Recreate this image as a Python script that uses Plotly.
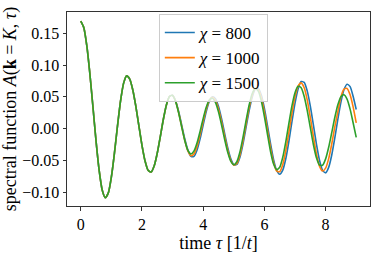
import plotly.graph_objects as go

tau = [round(i * 0.1, 1) for i in range(91)]

A_chi800 = [
    0.1690, 0.1587, 0.1292, 0.0850, 0.0327, -0.0201, -0.0656, -0.0967, -0.1088, -0.1013,
    -0.0762, -0.0386, 0.0041, 0.0434, 0.0715, 0.0829, 0.0778, 0.0607, 0.0347, 0.0039,
    -0.0264, -0.0510, -0.0658, -0.0684, -0.0586, -0.0385, -0.0122, 0.0150, 0.0375, 0.0506,
    0.0522, 0.0434, 0.0265, 0.0051, -0.0165, -0.0340, -0.0437, -0.0437, -0.0337, -0.0159,
    0.0058, 0.0269, 0.0427, 0.0498, 0.0468, 0.0346, 0.0154, -0.0075, -0.0297, -0.0472,
    -0.0567, -0.0565, -0.0450, -0.0243, 0.0017, 0.0279, 0.0494, 0.0619, 0.0630, 0.0523,
    0.0316, 0.0046, -0.0239, -0.0489, -0.0660, -0.0720, -0.0655, -0.0471, -0.0200, 0.0108,
    0.0400, 0.0624, 0.0739, 0.0727, 0.0589, 0.0352, 0.0056, -0.0245, -0.0499, -0.0658,
    -0.0697, -0.0611, -0.0416, -0.0147, 0.0147, 0.0416, 0.0611, 0.0697, 0.0660, 0.0505,
    0.0300,
]

A_chi1000 = [
    0.1690, 0.1587, 0.1292, 0.0850, 0.0327, -0.0201, -0.0656, -0.0967, -0.1088, -0.1013,
    -0.0762, -0.0386, 0.0041, 0.0434, 0.0715, 0.0829, 0.0778, 0.0607, 0.0347, 0.0039,
    -0.0264, -0.0510, -0.0658, -0.0684, -0.0586, -0.0385, -0.0122, 0.0150, 0.0375, 0.0506,
    0.0521, 0.0427, 0.0249, 0.0027, -0.0190, -0.0354, -0.0428, -0.0399, -0.0280, -0.0096,
    0.0115, 0.0307, 0.0442, 0.0490, 0.0441, 0.0304, 0.0103, -0.0125, -0.0338, -0.0499,
    -0.0576, -0.0551, -0.0415, -0.0194, 0.0071, 0.0327, 0.0526, 0.0630, 0.0617, 0.0484,
    0.0256, -0.0025, -0.0306, -0.0534, -0.0667, -0.0680, -0.0566, -0.0346, -0.0061, 0.0239,
    0.0498, 0.0668, 0.0719, 0.0641, 0.0448, 0.0175, -0.0125, -0.0398, -0.0591, -0.0669,
    -0.0624, -0.0473, -0.0243, 0.0026, 0.0264, 0.0497, 0.0619, 0.0631, 0.0531, 0.0338,
    0.0090,
]

A_chi1500 = [
    0.1690, 0.1587, 0.1292, 0.0850, 0.0327, -0.0201, -0.0656, -0.0967, -0.1088, -0.1013,
    -0.0762, -0.0386, 0.0041, 0.0434, 0.0715, 0.0829, 0.0778, 0.0607, 0.0347, 0.0039,
    -0.0264, -0.0510, -0.0658, -0.0684, -0.0586, -0.0385, -0.0122, 0.0150, 0.0375, 0.0506,
    0.0521, 0.0424, 0.0243, 0.0019, -0.0193, -0.0345, -0.0400, -0.0354, -0.0225, -0.0041,
    0.0160, 0.0336, 0.0450, 0.0478, 0.0412, 0.0262, 0.0056, -0.0168, -0.0369, -0.0512,
    -0.0570, -0.0523, -0.0370, -0.0140, 0.0123, 0.0367, 0.0548, 0.0628, 0.0589, 0.0432,
    0.0188, -0.0090, -0.0362, -0.0559, -0.0647, -0.0609, -0.0452, -0.0205, 0.0083, 0.0357,
    0.0564, 0.0664, 0.0641, 0.0504, 0.0281, 0.0013, -0.0251, -0.0460, -0.0575, -0.0577,
    -0.0477, -0.0295, -0.0064, 0.0174, 0.0375, 0.0502, 0.0533, 0.0463, 0.0305, 0.0087,
    -0.0140,
]

series_names = ["<i>χ</i> = 800", "<i>χ</i> = 1000", "<i>χ</i> = 1500"]
colors = ["#1f77b4", "#ff7f0e", "#2ca02c"]
x_ticks = [0, 2, 4, 6, 8]
y_ticks = [-0.10, -0.05, 0.00, 0.05, 0.10, 0.15]

fig = go.Figure()
for name, ys, c in zip(series_names, [A_chi800, A_chi1000, A_chi1500], colors):
    fig.add_trace(go.Scatter(x=tau, y=ys, mode="lines", name=name,
                             line=dict(color=c, width=1.6, shape="spline", smoothing=0.6)))

font_family = "Liberation Serif"
fig.update_layout(
    width=373, height=253,
    margin=dict(l=67, r=2, t=12, b=43),
    paper_bgcolor="white", plot_bgcolor="white",
    font=dict(family=font_family, size=16, color="black"),
    showlegend=True,
    legend=dict(x=0.303, y=0.99, xanchor="left", yanchor="top",
                bgcolor="rgba(255,255,255,0.8)", bordercolor="#cccccc", borderwidth=1,
                font=dict(family=font_family, size=17), tracegroupgap=0),
    xaxis=dict(range=[-0.45, 9.45], tickvals=x_ticks, ticks="outside", ticklen=3.5,
               tickcolor="#333", showline=True, linecolor="#333", linewidth=1, mirror=True,
               showgrid=False, zeroline=False, tickfont=dict(family=font_family, size=16),
               title=dict(text="time <i>τ</i> [1/<i>t</i>]",
                          font=dict(family=font_family, size=18), standoff=6)),
    yaxis=dict(range=[-0.1219, 0.1834], tickvals=y_ticks, tickformat=".2f", ticks="outside",
               ticklen=3.5, tickcolor="#333", showline=True, linecolor="#333", linewidth=1,
               mirror=True, showgrid=False, zeroline=False,
               tickfont=dict(family=font_family, size=16),
               title=dict(text="spectral function <i>A</i>(<b>k</b> = <i>K</i>, <i>τ</i>)",
                          font=dict(family=font_family, size=18), standoff=4)),
)

fig.write_html("out.html", config={"displayModeBar": False},
               post_script="document.body.style.margin='0';")
